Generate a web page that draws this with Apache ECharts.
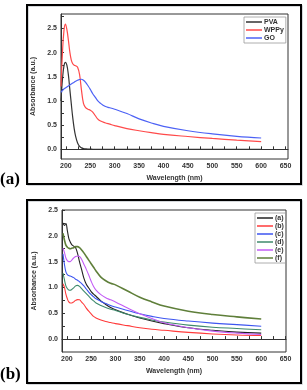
<!DOCTYPE html>
<html><head><meta charset="utf-8">
<script src="https://cdn.jsdelivr.net/npm/echarts@6/dist/echarts.min.js"></script>
<style>html,body{margin:0;padding:0;background:#fff}#c{width:307px;height:390px}</style>
</head><body><div id="c"></div>
<script>
// Panel (a)
const wlA = [190,193,196,199,202,205,208,211,214,217,220,224,228,232,236,240,245,250,255,260,265,270,280,290,300,325,350,375,400,450,500,550,600];
const pva = [1.0,1.45,1.72,1.80,1.74,1.55,1.25,0.95,0.66,0.43,0.27,0.13,0.06,0.03,0.015,0.01,0.005,0.003,0.002,0.001,0,0,0,0,0,0,0,0,0,0,0,0,0];
const wppy = [1.3,2.0,2.45,2.59,2.48,2.27,2.02,1.85,1.77,1.74,1.73,1.70,1.55,1.22,0.95,0.87,0.83,0.81,0.77,0.70,0.63,0.59,0.55,0.52,0.49,0.43,0.385,0.345,0.31,0.265,0.225,0.19,0.16];
const go = [1.18,1.22,1.25,1.27,1.29,1.31,1.33,1.35,1.37,1.39,1.41,1.43,1.445,1.45,1.43,1.39,1.32,1.24,1.15,1.08,1.01,0.96,0.89,0.86,0.83,0.74,0.63,0.545,0.475,0.385,0.32,0.27,0.235];
// Panel (b)
const wlB = [192,195,198,201,204,207,210,214,218,222,226,230,235,240,245,250,255,260,270,280,290,300,325,350,375,400,450,500,550,600];
const sA = [2.25,2.20,2.24,2.10,1.95,1.88,1.83,1.80,1.77,1.66,1.50,1.36,1.18,1.06,0.99,0.92,0.87,0.83,0.74,0.67,0.61,0.57,0.48,0.41,0.35,0.30,0.22,0.17,0.135,0.115];
const sB = [1.07,1.0,0.87,0.78,0.72,0.70,0.70,0.72,0.75,0.765,0.76,0.72,0.67,0.60,0.54,0.49,0.44,0.41,0.37,0.34,0.32,0.30,0.26,0.22,0.19,0.17,0.13,0.10,0.08,0.07];
const sC = [1.65,1.45,1.30,1.25,1.23,1.22,1.21,1.19,1.16,1.14,1.11,1.08,1.03,0.97,0.91,0.86,0.82,0.78,0.73,0.69,0.65,0.62,0.555,0.49,0.44,0.40,0.35,0.31,0.28,0.25];
const sD = [1.28,1.15,1.03,0.98,0.95,0.945,0.96,0.99,1.03,1.04,1.02,0.98,0.93,0.88,0.83,0.78,0.74,0.70,0.65,0.61,0.58,0.555,0.48,0.42,0.37,0.33,0.27,0.23,0.205,0.18];
const sE = [1.76,1.68,1.57,1.52,1.50,1.50,1.53,1.57,1.60,1.61,1.60,1.55,1.45,1.35,1.24,1.12,1.02,0.95,0.86,0.80,0.76,0.72,0.60,0.49,0.40,0.315,0.22,0.155,0.115,0.09];
const sF = [2.05,1.92,1.82,1.78,1.76,1.75,1.76,1.77,1.79,1.79,1.77,1.73,1.67,1.60,1.53,1.46,1.39,1.32,1.20,1.13,1.08,1.05,0.93,0.81,0.72,0.64,0.54,0.475,0.43,0.39];

const xLabels = [200,250,300,350,400,450,500,550,600,650];
const xTicks = [200,225,250,275,300,325,350,375,400,425,450,475,500,525,550,575,600,625,650];
const yLabelsA = [0,0.5,1.0,1.5,2.0,2.5];
const yTicksA = [-0.25,0,0.25,0.5,0.75,1.0,1.25,1.5,1.75,2.0,2.25,2.5,2.75];
const yLabelsB = [0,0.5,1.0,1.5,2.0,2.5];
const yTicksB = [0,0.25,0.5,0.75,1.0,1.25,1.5,1.75,2.0,2.25,2.5];

const namesA = ['PVA','WPPy','GO'];
const namesB = ['(a)','(b)','(c)','(d)','(e)','(f)'];
const colA = ['#333333','#ff4a4a','#4d62f5'];
const colB = ['#222222','#ff3b3b','#3d55f0','#3f8a6c','#c35cf5','#5f7f3a'];

const pair = (xs, ys) => xs.map((x,i)=>[x, ys[i]]);
const font = 'Liberation Sans';
const lab = {fontSize:7, fontWeight:'bold', color:'#333', fontFamily:font};

function xAxis(gi, max){
  return {type:'value', gridIndex:gi, min:190, max:max,
    name:'Wavelength (nm)', nameLocation:'middle', nameGap:16,
    nameTextStyle:{fontSize:7, fontWeight:'bold', color:'#333', fontFamily:font},
    axisLine:{lineStyle:{color:'#333', width:1}},
    axisTick:{inside:true, length:3, customValues:xTicks, lineStyle:{color:'#333'}},
    axisLabel:Object.assign({margin:4, customValues:xLabels}, lab),
    splitLine:{show:false}};
}
function yAxis(gi, min, max, labels, ticks){
  return {type:'value', gridIndex:gi, min:min, max:max,
    name:'Absorbance (a.u.)', nameLocation:'middle', nameGap:18,
    nameTextStyle:{fontSize:7, fontWeight:'bold', color:'#333', fontFamily:font},
    axisLine:{show:true, lineStyle:{color:'#333', width:1}},
    axisTick:{show:true, inside:true, length:3, customValues:ticks, lineStyle:{color:'#333'}},
    axisLabel:Object.assign({margin:4, customValues:labels, formatter:v=>v.toFixed(1)}, lab),
    splitLine:{show:false}};
}

const seriesA = [pva, wppy, go].map((d,i)=>({name:namesA[i], type:'line', xAxisIndex:0, yAxisIndex:0,
  data:pair(wlA,d), smooth:0.4, showSymbol:false, symbol:'none', lineStyle:{color:colA[i], width:1.2}, itemStyle:{color:colA[i]}}));
const seriesB = [sA,sB,sC,sD,sE,sF].map((d,i)=>({name:namesB[i], type:'line', xAxisIndex:1, yAxisIndex:1,
  data:pair(wlB,d), smooth:0.4, showSymbol:false, symbol:'none', lineStyle:{color:colB[i], width:i===5?1.6:1.1}, itemStyle:{color:colB[i]}}));

const legendCommon = {orient:'vertical', icon:'rect', itemWidth:16, itemHeight:1.5, itemGap:0,
  borderColor:'#999', borderWidth:0.8, padding:[1,2,1,2],
  textStyle:{fontSize:7, fontWeight:'bold', color:'#333', fontFamily:font, lineHeight:8, padding:[0,0,0,-3]}};

const chart = echarts.init(document.getElementById('c'), null, {renderer:'canvas'});
chart.setOption({
  animation:false,
  backgroundColor:'#fff',
  grid:[
    {left:61, top:14, width:227, height:145, show:true, borderColor:'#333', borderWidth:1},
    {left:62, top:210, width:224, height:142, show:true, borderColor:'#333', borderWidth:1}
  ],
  xAxis:[xAxis(0,655), xAxis(1,651)],
  yAxis:[yAxis(0,-0.2,2.8,yLabelsA,yTicksA), yAxis(1,-0.25,2.5,yLabelsB,yTicksB)],
  legend:[
    Object.assign({data:namesA, left:244, top:17}, legendCommon),
    Object.assign({data:namesB, left:255, top:213}, legendCommon)
  ],
  series:seriesA.concat(seriesB),
  graphic:[
    {type:'rect', shape:{x:28, y:6, width:274, height:179}, style:{fill:'none', stroke:'#c8ccd0', lineWidth:1.5}, z:-1},
    {type:'rect', shape:{x:27, y:5, width:274, height:179}, style:{fill:'none', stroke:'#000', lineWidth:2}},
    {type:'rect', shape:{x:28, y:201, width:274, height:183}, style:{fill:'none', stroke:'#c8ccd0', lineWidth:1.5}, z:-1},
    {type:'rect', shape:{x:27, y:200, width:274, height:183}, style:{fill:'none', stroke:'#000', lineWidth:2}},
    {type:'text', left:0, top:171, style:{text:'(a)', font:'bold 17px "Liberation Serif"', fill:'#000'}},
    {type:'text', left:0, top:366, style:{text:'(b)', font:'bold 17px "Liberation Serif"', fill:'#000'}}
  ]
});
</script></body></html>
